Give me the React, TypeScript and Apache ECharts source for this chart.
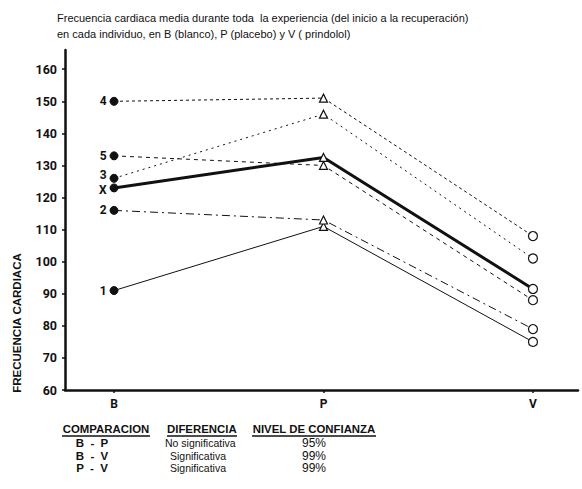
import React, { useEffect, useRef } from "react";
import * as echarts from "echarts";

const categories = ["B", "P", "V"];
const yTicks = [60, 70, 80, 90, 100, 110, 120, 130, 140, 150, 160];
const ind1 = [91, 111, 75];
const ind2 = [116, 113, 79];
const ind3 = [126, 146, 101];
const ind4 = [150, 151, 108];
const ind5 = [133, 130, 88];
const meanX = [123, 132.5, 91.5];
const seriesNames = ["1", "2", "3", "4", "5", "X"];
const compRows = ["B  -  P", "B  -  V", "P  -  V"];
const diffRows = ["No significativa", "Significativa", "Significativa"];
const confRows = ["95%", "99%", "99%"];

const FONT = "'Liberation Sans', Arial, sans-serif";
const NARROW = "Roboto, 'Liberation Sans', sans-serif";

export default function App() {
  const ref = useRef<HTMLDivElement>(null);
  useEffect(() => {
    if (!ref.current) return;
    const chart = echarts.init(ref.current, null, { renderer: "svg" });

    const allData = [ind1, ind2, ind3, ind4, ind5, meanX];
    const styles: any[] = [
      { width: 1, type: "solid" },
      { width: 1, type: [8, 4, 2, 4] },
      { width: 1, type: [2, 4] },
      { width: 1, type: [3, 3] },
      { width: 1, type: [4, 4] },
      { width: 3, type: "solid" },
    ];
    const labelOffsets: number[][] = [[0, 0], [0, 0], [0, -3], [0, 0], [0, 0], [0, 2]];
    const series = allData.map((vals, si) => ({
      type: "line",
      name: seriesNames[si],
      z: si === 5 ? 5 : 3,
      lineStyle: { color: "#111", ...styles[si] },
      data: vals.map((v, i) => {
        const base: any = { value: [i, v] };
        if (i === 0) {
          base.symbol = "circle";
          base.symbolSize = 8;
          base.itemStyle = { color: "#111", borderColor: "#111", borderWidth: 1 };
          base.label = {
            show: true,
            position: "left",
            distance: 3,
            offset: labelOffsets[si],
            formatter: seriesNames[si],
            fontFamily: NARROW,
            fontWeight: "bold",
            fontSize: 12,
            color: "#111",
          };
        } else if (i === 1) {
          base.symbol = "triangle";
          base.symbolSize = 8;
          base.itemStyle = { color: "#fff", borderColor: "#111", borderWidth: 1.2 };
        } else {
          base.symbol = "circle";
          base.symbolSize = 9;
          base.itemStyle = { color: "#fff", borderColor: "#111", borderWidth: 1.2 };
        }
        return base;
      }),
    }));

    const g: any[] = [];
    g.push({
      type: "text",
      left: 57,
      top: 10,
      style: {
        text: "Frecuencia cardiaca media durante toda  la experiencia (del inicio a la recuperación)\nen cada individuo, en B (blanco), P (placebo) y V ( prindolol)",
        font: `11px ${FONT}`,
        fill: "#111",
        lineHeight: 16,
      },
    });
    g.push({
      type: "text",
      x: 17,
      y: 323,
      rotation: Math.PI / 2,
      style: {
        text: "FRECUENCIA CARDIACA",
        font: `bold 11.5px ${FONT}`,
        fill: "#111",
        align: "center",
        verticalAlign: "middle",
      },
    });
    const headers = [
      { t: "COMPARACION", x: 106, align: "center" },
      { t: "DIFERENCIA", x: 167, align: "left" },
      { t: "NIVEL DE CONFIANZA", x: 314, align: "center" },
    ];
    headers.forEach((h) => {
      g.push({
        type: "text",
        x: h.x,
        y: 429,
        style: {
          text: h.t,
          font: `bold 11.4px ${FONT}`,
          fill: "#111",
          align: h.align,
          verticalAlign: "middle",
        },
      });
    });
    const underlines = [
      [62, 150],
      [167, 237],
      [252, 376],
    ];
    underlines.forEach(([a, b]) => {
      g.push({
        type: "line",
        shape: { x1: a, y1: 436, x2: b, y2: 436 },
        style: { stroke: "#111", lineWidth: 1.3 },
      });
    });
    const rowY = [443, 455.5, 468];
    compRows.forEach((t, i) => {
      g.push({
        type: "text",
        x: 92,
        y: rowY[i],
        style: { text: t, font: `bold 11.5px ${FONT}`, fill: "#111", align: "center", verticalAlign: "middle" },
      });
    });
    diffRows.forEach((t, i) => {
      g.push({
        type: "text",
        x: i === 0 ? 165 : 170,
        y: rowY[i],
        style: { text: t, font: `10.5px ${FONT}`, fill: "#111", align: "left", verticalAlign: "middle" },
      });
    });
    confRows.forEach((t, i) => {
      g.push({
        type: "text",
        x: 314,
        y: rowY[i],
        style: { text: t, font: `12px ${FONT}`, fill: "#111", align: "center", verticalAlign: "middle" },
      });
    });

    chart.setOption({
      animation: false,
      backgroundColor: "#fff",
      grid: { left: 65, right: 4, top: 50, bottom: 99, containLabel: false },
      xAxis: {
        type: "value",
        min: -0.234,
        max: 2.215,
        axisLine: { show: true, onZero: false, lineStyle: { color: "#111", width: 2.5 } },
        splitLine: { show: false },
        axisTick: { show: true, customValues: [0, 1, 2], length: 3, lineStyle: { color: "#111", width: 1.5 } },
        axisLabel: {
          customValues: [0, 1, 2],
          formatter: (v: number) => categories[Math.round(v)] ?? "",
          fontFamily: NARROW,
          fontWeight: "bold",
          fontSize: 12,
          color: "#111",
          margin: 8,
        },
      },
      yAxis: {
        type: "value",
        min: 60,
        max: 166,
        axisLine: { show: true, onZero: false, lineStyle: { color: "#111", width: 2.5 } },
        splitLine: { show: false },
        axisTick: { show: true, customValues: yTicks, length: 3, lineStyle: { color: "#111", width: 1.5 } },
        axisLabel: {
          customValues: yTicks,
          fontFamily: NARROW,
          fontWeight: "bold",
          fontSize: 12.5,
          color: "#111",
          margin: 8,
        },
      },
      series,
      graphic: g,
    });
    return () => chart.dispose();
  }, []);
  return <div ref={ref} style={{ width: 582, height: 489, position: "absolute", left: 0, top: 0 }} />;
}
